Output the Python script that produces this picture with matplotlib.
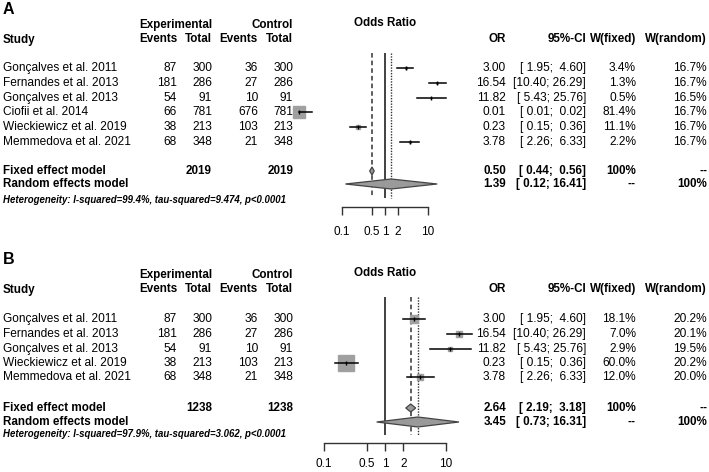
import numpy as np
import matplotlib
matplotlib.use("Agg")
import matplotlib.pyplot as plt

plt.rcParams['font.family'] = ['Liberation Sans', 'DejaVu Sans']

# ---- data: panel A ----
studies_a = ["Gonçalves et al. 2011", "Fernandes et al. 2013", "Gonçalves et al. 2013",
             "Ciofii et al. 2014", "Wieckiewicz et al. 2019", "Memmedova et al. 2021"]
exp_ev_a = [87, 181, 54, 66, 38, 68]
exp_n_a = [300, 286, 91, 781, 213, 348]
ctl_ev_a = [36, 27, 10, 676, 103, 21]
ctl_n_a = [300, 286, 91, 781, 213, 348]
or_a = [3.00, 16.54, 11.82, 0.01, 0.23, 3.78]
lo_a = [1.95, 10.40, 5.43, 0.01, 0.15, 2.26]
hi_a = [4.60, 26.29, 25.76, 0.02, 0.36, 6.33]
wf_a = [3.4, 1.3, 0.5, 81.4, 11.1, 2.2]
wr_a = [16.7, 16.7, 16.5, 16.7, 16.7, 16.7]
fixed_a = (0.50, 0.44, 0.56)
random_a = (1.39, 0.12, 16.41)
tot_a = (2019, 2019)
het_a = "Heterogeneity: I-squared=99.4%, tau-squared=9.474, p<0.0001"

# ---- data: panel B ----
studies_b = ["Gonçalves et al. 2011", "Fernandes et al. 2013", "Gonçalves et al. 2013",
             "Wieckiewicz et al. 2019", "Memmedova et al. 2021"]
exp_ev_b = [87, 181, 54, 38, 68]
exp_n_b = [300, 286, 91, 213, 348]
ctl_ev_b = [36, 27, 10, 103, 21]
ctl_n_b = [300, 286, 91, 213, 348]
or_b = [3.00, 16.54, 11.82, 0.23, 3.78]
lo_b = [1.95, 10.40, 5.43, 0.15, 2.26]
hi_b = [4.60, 26.29, 25.76, 0.36, 6.33]
wf_b = [18.1, 7.0, 2.9, 60.0, 12.0]
wr_b = [20.2, 20.1, 19.5, 20.2, 20.0]
fixed_b = (2.64, 2.19, 3.18)
random_b = (3.45, 0.73, 16.31)
tot_b = (1238, 1238)
het_b = "Heterogeneity: I-squared=97.9%, tau-squared=3.062, p<0.0001"

tick_vals = [0.1, 0.5, 1, 2, 10]
tick_labels = ["0.1", "0.5", "1", "2", "10"]

W, H = 709, 472
fig = plt.figure(figsize=(W / 100, H / 100), dpi=100)
bg = fig.add_axes([0, 0, 1, 1])
bg.set_xlim(0, W)
bg.set_ylim(H, 0)
bg.axis("off")

FS = 8.6
FS_B = 8.4
SQ = "#a0a0a0"
DARK = "#333333"


def ci_txt(lo, hi):
    return f"[{lo:5.2f}; {hi:5.2f}]"


def txt(x, y, s, ha="right", bold=False, **kw):
    bg.text(x, y, s, ha=ha, va="center",
            fontsize=kw.pop("fs", FS_B if bold else FS),
            fontweight="bold" if bold else "normal", **kw)


def panel(label, top, rows, fixed_y, random_y, het_y, axis_y, line_span, tick_pad,
          studies, ee, en, ce, cn, ors, los, his, wf, wr, fx, rn, tot, het,
          ax_px, one_px, decade_px, sq_scale):
    # panel letter
    txt(3, top - 15, label, ha="left", bold=True, fs=11.5)
    # headers
    h1, h2 = top, top + 15
    txt(212, h1, "Experimental", bold=True)
    txt(293, h1, "Control", bold=True)
    txt(385, h1 - 2, "Odds Ratio", ha="center", bold=True)
    txt(3, h2, "Study", ha="left", bold=True)
    for x, s in [(177, "Events"), (212, "Total"), (258, "Events"), (293, "Total"),
                 (506, "OR"), (586, "95%-CI"), (636, "W(fixed)"), (707, "W(random)")]:
        txt(x, h2 - 1, s, bold=True)
    # study rows
    for i, y in enumerate(rows):
        txt(3, y, studies[i], ha="left")
        txt(177, y, str(ee[i]))
        txt(212, y, str(en[i]))
        txt(258, y, str(ce[i]))
        txt(293, y, str(cn[i]))
        txt(506, y, f"{ors[i]:.2f}")
        txt(586, y, ci_txt(los[i], his[i]))
        txt(636, y, f"{wf[i]:.1f}%")
        txt(707, y, f"{wr[i]:.1f}%")
    # summary rows
    txt(3, fixed_y, "Fixed effect model", ha="left", bold=True)
    txt(212, fixed_y, str(tot[0]), bold=True)
    txt(293, fixed_y, str(tot[1]), bold=True)
    txt(506, fixed_y, f"{fx[0]:.2f}", bold=True)
    txt(586, fixed_y, ci_txt(fx[1], fx[2]), bold=True)
    txt(636, fixed_y, "100%", bold=True)
    txt(707, fixed_y, "--", bold=True)
    txt(3, random_y, "Random effects model", ha="left", bold=True)
    txt(506, random_y, f"{rn[0]:.2f}", bold=True)
    txt(586, random_y, ci_txt(rn[1], rn[2]), bold=True)
    txt(636, random_y, "--", bold=True)
    txt(707, random_y, "100%", bold=True)
    bg.text(3, het_y, het, ha="left", va="center", fontsize=6.9,
            fontweight="bold", fontstyle="italic")

    # forest axes, y in figure pixels, x log scale
    x0, x1 = ax_px
    y0 = top + 5
    ax = fig.add_axes([x0 / W, 1 - axis_y / H, (x1 - x0) / W, (axis_y - y0) / H])
    ax.patch.set_visible(False)
    ax.set_xscale("log")
    ax.set_xlim(10 ** ((x0 - one_px) / decade_px), 10 ** ((x1 - one_px) / decade_px))
    ax.set_ylim(axis_y, y0)
    for s in ["top", "left", "right"]:
        ax.spines[s].set_visible(False)
    ax.spines["bottom"].set_bounds(0.1, 10)
    ax.spines["bottom"].set_color(DARK)
    ax.spines["bottom"].set_linewidth(1)
    ax.set_yticks([])
    ax.set_xticks(tick_vals)
    ax.set_xticklabels(tick_labels, fontsize=8.5)
    ax.xaxis.set_minor_locator(matplotlib.ticker.NullLocator())
    ax.tick_params(axis="x", direction="out", length=5.5, width=1, color=DARK, pad=tick_pad)

    ax.vlines(1, line_span[0], line_span[1], color=DARK, lw=1.3)
    ax.vlines(fx[0], line_span[0], line_span[1], color=DARK, lw=1.1, linestyles=(0, (3, 2)))
    ax.vlines(rn[0], line_span[0], line_span[1], color=DARK, lw=1.0, linestyles=(0, (1, 1)))

    for i, y in enumerate(rows):
        size_px = sq_scale * np.sqrt(wf[i])
        ax.plot(ors[i], y, marker="s", ms=size_px * 0.72, mfc=SQ, mec=SQ,
                ls="none", clip_on=False, zorder=2)
        ax.plot([los[i], his[i]], [y, y], color="black", lw=1.1, clip_on=False, zorder=3)
        ax.plot(ors[i], y, marker="|", ms=3.5, mec="black", mew=1,
                ls="none", clip_on=False, zorder=4)

    for (est, lo, hi), y, h in [(fx, fixed_y, 4), (rn, random_y, 5)]:
        lo_d = min(lo, est / 1.06)
        hi_d = max(hi, est * 1.06)
        ax.fill([lo_d, est, hi_d, est], [y, y - h, y, y + h], facecolor="#9a9a9a",
                edgecolor="#444444", lw=0.9, clip_on=False, zorder=3)
    return ax


panel("A", 25, [68, 83, 98, 112, 127, 142], 171, 184, 200, 207, (53, 198), 8,
      studies_a, exp_ev_a, exp_n_a, ctl_ev_a, ctl_n_a, or_a, lo_a, hi_a,
      wf_a, wr_a, fixed_a, random_a, tot_a, het_a,
      (290, 460), 385, 43, 1.44)

panel("B", 275, [319, 334, 349, 363, 377], 408, 422, 434, 443, (297, 435), 5.5,
      studies_b, exp_ev_b, exp_n_b, ctl_ev_b, ctl_n_b, or_b, lo_b, hi_b,
      wf_b, wr_b, fixed_b, random_b, tot_b, het_b,
      (300, 470), 385, 61, 1.94)

fig.savefig("out.png", dpi=100)
